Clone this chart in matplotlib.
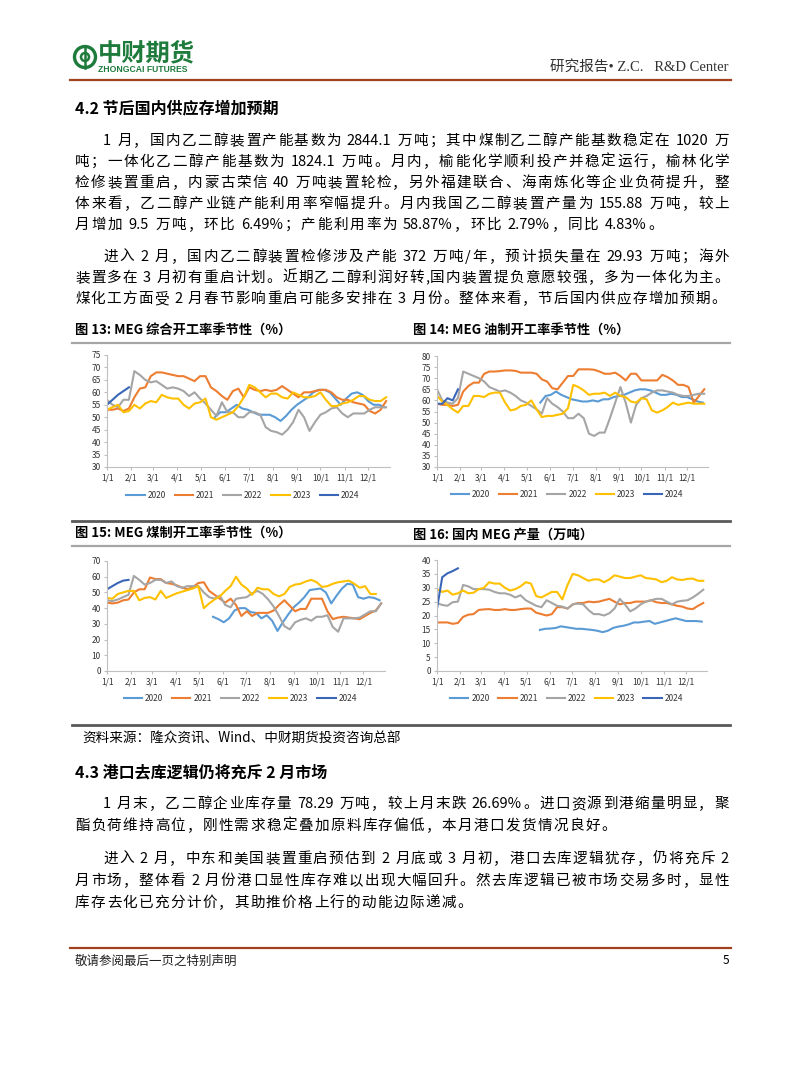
import re
import numpy as np
import pandas as pd
import matplotlib
matplotlib.use('Agg')
import matplotlib.pyplot as plt
from matplotlib.font_manager import FontProperties
from matplotlib.patches import Ellipse
from matplotlib.lines import Line2D

plt.rcParams['font.family'] = ['Noto Sans CJK SC', 'DejaVu Sans']

W, H = 802, 1087

# ---------------- data ----------------
years = [2020, 2021, 2022, 2023, 2024]
year_colors = ['#5B9BD5', '#ED7D31', '#A5A5A5', '#FFC000', '#3A66B8']
start_2020 = '2020-05-18'
month_days = [0, 31, 59, 90, 120, 151, 181, 212, 243, 273, 304, 334]
month_labels = ['1/1', '2/1', '3/1', '4/1', '5/1', '6/1',
                '7/1', '8/1', '9/1', '10/1', '11/1', '12/1']

# 图13 MEG综合开工率 (%), weekly
c13_2020 = [50, 52, 52, 53.5, 55, 53.5, 53, 52, 51, 51, 51, 50, 48.5, 50.5, 53, 55,
            56.5, 58, 60, 61, 61, 60, 57.5, 55, 57.5, 59.5, 60, 59, 56.5, 55, 55, 54]
c13_2021 = [53, 53, 53.5, 52.5, 53.5, 58, 61.5, 62, 66.5, 68, 68, 67.5, 67, 66.5, 66.5, 65.5,
            64.5, 66.5, 66.5, 62, 60.5, 58.5, 57, 60.5, 61.5, 58, 62, 61, 60.5, 61, 60.5, 61,
            62.5, 61, 59.5, 58, 60, 60, 60.5, 61, 61, 60, 58, 57, 57, 56, 55.5, 55, 52.5, 51.5,
            53, 56.5]
c13_2022 = [57, 55, 54, 57, 57, 68.5, 67, 65, 64, 64.5, 63, 61.5, 62, 61.5, 60.5, 58.5,
            60, 57.5, 55.5, 53, 50.5, 56, 52, 52, 50, 50, 52, 52, 51, 46, 44.5, 44,
            43, 45, 48, 53, 50, 44.5, 48, 51, 52, 53.5, 54, 51.5, 50, 51.5, 51.5, 51.5, 53, 54,
            54, 54]
c13_2023 = [53, 54, 55, 52, 52.5, 55, 53.5, 55.5, 56.5, 56, 59, 58, 57.5, 57.5, 55, 53.5,
            55.5, 56, 57.5, 50, 49, 50, 51, 52, 54.5, 58, 63, 62, 60, 58, 59.5, 59.5,
            58, 57.5, 60, 59, 58, 58, 58.5, 60, 57, 54.5, 54.5, 55.5, 56, 57, 58.5, 58.5, 57, 56.5,
            56.5, 58]
c13_2024 = [55, 57, 59, 60.5, 62]

# 图14 MEG油制开工率 (%)
c14_2020 = [59, 62, 62.5, 64, 62.5, 61.5, 60.5, 60, 59.5, 59.5, 60, 59.5, 60.5, 60.5, 61.5, 62,
            62.5, 63.5, 64.5, 65, 65, 64.5, 63.5, 62.5, 62.5, 63, 62.5, 61.5, 61.5, 60.5, 59.5, 59]
c14_2021 = [58.5, 58, 58, 57.5, 58, 64, 66.5, 68, 68, 72, 73, 73, 73.2, 73.5, 73.5, 73.3,
            72.5, 72.5, 72.5, 72, 69.5, 68.5, 65.5, 65, 68, 71, 71, 74, 74, 74, 73.8, 73,
            72, 72, 72.5, 71, 69, 72, 72, 69, 69, 69, 69, 71.5, 70.5, 69, 67, 67, 66, 59,
            62, 65]
c14_2022 = [65, 60, 59, 58.5, 61, 73, 72, 71, 70, 68.5, 66, 65, 64, 64.5, 63.5, 62,
            60, 59, 57.5, 56, 54, 61, 58.5, 57, 55, 52, 52, 54, 52, 45, 44, 45.5,
            45.5, 52, 59, 66, 59, 50, 58, 61, 62, 63.5, 64.5, 64.5, 64, 63.5, 62.5, 62, 62, 62.5,
            63, 63]
c14_2023 = [62, 59.5, 58, 56, 54.5, 57.5, 57.5, 62, 62, 61.5, 63, 63.5, 63.5, 59, 55.5, 56,
            57.5, 58, 60, 56, 52.5, 53, 53, 53.5, 54, 56.5, 67, 66, 64.5, 62.5, 63, 63,
            63.5, 62, 63.5, 62, 61.5, 59.5, 59, 61, 60.5, 55.5, 54.5, 55.5, 57, 59, 58, 58.5, 59, 58.5,
            58.5, 58.5]
c14_2024 = [58.5, 58.5, 61, 60, 65]

# 图15 MEG煤制开工率 (%)
c15_2020 = [34.5, 33, 31, 33.5, 38.5, 40, 40, 37.5, 37, 33.5, 35.5, 32, 25.5, 31, 36, 40.5,
            43.5, 47, 51.5, 52, 52.5, 50, 43, 48, 52.5, 55.5, 55, 47, 46, 47, 46.5, 45]
c15_2021 = [43.5, 43, 43.5, 45, 45.5, 50, 52, 52, 59.5, 58.5, 58.5, 56, 55.5, 54.5, 53, 52,
            53.5, 56, 56.5, 51, 48.5, 46, 43.5, 46, 42, 35, 38, 35, 37, 37, 37, 38.5,
            42, 45, 41.5, 38, 39.5, 39.5, 46, 46, 46, 38, 33, 34, 34.5, 34, 33.5, 33, 35, 37,
            38.5, 43]
c15_2022 = [45, 44.5, 45.5, 47, 48.5, 60.5, 58, 55, 56, 58, 58, 56, 57, 54, 53, 54,
            54, 54, 50, 47, 46, 48, 42, 40.5, 46, 46.5, 47, 49.5, 51, 49, 45.5, 41,
            35, 28.5, 26.5, 31, 32.5, 33.5, 32, 34.5, 34.5, 35.5, 28, 25, 33.5, 33.5, 33.5, 34, 36, 38,
            38, 43]
c15_2023 = [46.5, 46, 49, 50, 51, 51, 45, 46.5, 47, 45.5, 51, 46.5, 48, 49.5, 50.5, 51.5,
            52.5, 54, 40, 43, 45.5, 47.5, 51, 54, 60, 55, 52.5, 48.5, 53, 52, 52, 49,
            47.5, 49, 53.5, 55, 55.5, 57, 58, 56.5, 53.5, 54, 55.5, 56.5, 57, 57.5, 55.5, 53, 54, 49,
            49]
c15_2024 = [52, 54, 56, 57.5, 58]

# 图16 国内MEG产量 (万吨)
c16_2020 = [14.8, 15.2, 15.3, 15.5, 16.1, 15.8, 15.5, 15.2, 15.2, 15, 14.8, 14.5, 14, 14.5, 15.5, 16,
            16.3, 16.8, 17.5, 17.5, 17.8, 18, 17, 17.5, 18, 18.5, 19, 18.5, 18, 18, 18, 17.8]
c16_2021 = [17.5, 17.5, 17.5, 17, 17.3, 19.5, 20.3, 20.5, 22, 22.2, 22.3, 22, 22, 22.3, 22, 22,
            22.3, 22.5, 22.5, 21, 20.5, 20, 20.5, 23, 23, 22.5, 24, 24.5, 24.5, 25, 24.8, 25,
            25.5, 26, 25, 24, 24.5, 24.5, 25, 25, 25, 25.5, 24.8, 24.5, 24.5, 24, 23.5, 23.2, 22.5, 22.3,
            23.5, 24.5]
c16_2022 = [24.5, 23.8, 23.5, 24.8, 25, 31, 30.5, 29.5, 29.5, 29.5, 29.3, 28.5, 28, 28, 27.5, 26.5,
            27.3, 25.5, 24.5, 23.5, 23, 25.5, 24.5, 23.5, 23.2, 22.5, 24, 24.3, 24, 22, 20.5, 20.5,
            20, 20.8, 22.5, 26, 24, 21.5, 22.5, 24, 25, 25.5, 26, 26, 25, 24, 25, 25.3, 25.5, 26.5,
            27.8, 29.3]
c16_2023 = [29.5, 28.5, 29, 27.5, 28, 29, 28, 28.2, 29.5, 30, 32, 31.5, 31.5, 30, 29, 29.5,
            30.5, 32, 31.5, 27, 26.5, 27.5, 28.5, 28.5, 25.8, 31, 35, 34.5, 33.5, 32.5, 33, 33,
            32, 33, 34.5, 34, 33.5, 33.5, 34, 34.5, 33.5, 33.3, 33, 32, 32.5, 33.8, 33, 32.8, 33.2, 33.3,
            32.5, 32.5]
c16_2024 = [22.5, 33.8, 35.2, 36, 37]

# ---------------- page text ----------------
sec42_title = '4.2 节后国内供应存增加预期'
sec42_p1 = ['1 月，国内乙二醇装置产能基数为 2844.1 万吨；其中煤制乙二醇产能基数稳定在 1020 万',
            '吨；一体化乙二醇产能基数为 1824.1 万吨。月内，榆能化学顺利投产并稳定运行，榆林化学',
            '检修装置重启，内蒙古荣信 40 万吨装置轮检，另外福建联合、海南炼化等企业负荷提升，整',
            '体来看，乙二醇产业链产能利用率窄幅提升。月内我国乙二醇装置产量为 155.88 万吨，较上',
            '月增加 9.5 万吨，环比 6.49%；产能利用率为 58.87%，环比 2.79%，同比 4.83%。']
sec42_p2 = ['进入 2 月，国内乙二醇装置检修涉及产能 372 万吨/年，预计损失量在 29.93 万吨；海外',
            '装置多在 3 月初有重启计划。近期乙二醇利润好转,国内装置提负意愿较强，多为一体化为主。',
            '煤化工方面受 2 月春节影响重启可能多安排在 3 月份。整体来看，节后国内供应存增加预期。']
sec43_title = '4.3 港口去库逻辑仍将充斥 2 月市场'
sec43_p1 = ['1 月末，乙二醇企业库存量 78.29 万吨，较上月末跌 26.69%。进口资源到港缩量明显，聚',
            '酯负荷维持高位，刚性需求稳定叠加原料库存偏低，本月港口发货情况良好。']
sec43_p2 = ['进入 2 月，中东和美国装置重启预估到 2 月底或 3 月初，港口去库逻辑犹存，仍将充斥 2',
            '月市场，整体看 2 月份港口显性库存难以出现大幅回升。然去库逻辑已被市场交易多时，显性',
            '库存去化已充分计价，其助推价格上行的动能边际递减。']
fig_titles = ['图 13: MEG 综合开工率季节性（%）', '图 14: MEG 油制开工率季节性（%）',
              '图 15: MEG 煤制开工率季节性（%）', '图 16: 国内 MEG 产量（万吨）']
source_text = '资料来源：隆众资讯、Wind、中财期货投资咨询总部'

fig = plt.figure(figsize=(W / 100, H / 100), dpi=100)
renderer = fig.canvas.get_renderer()
CJK = ['Noto Sans CJK SC', 'DejaVu Sans']
body = FontProperties(family=CJK, size=10.5)


def hline(x0, x1, y, color, lw):
    fig.add_artist(Line2D([x0 / W, x1 / W], [1 - y / H, 1 - y / H],
                          color=color, lw=lw, transform=fig.transFigure))


def tw(s, prop):
    a = renderer.get_text_width_height_descent('x' + s + 'x', prop, ismath=False)[0]
    b = renderer.get_text_width_height_descent('xx', prop, ismath=False)[0]
    return a - b


def draw_line(s, x0, x1, y, prop, extra=None):
    toks = re.findall(r'[0-9A-Za-z.%/]+|.', s)
    ws = [tw(t, prop) for t in toks]
    if extra is None:
        extra = (x1 - x0 - sum(ws)) / (len(toks) - 1)
    x = x0
    for t, w in zip(toks, ws):
        if t != ' ':
            fig.text(x / W, 1 - y / H, t, fontproperties=prop, va='baseline', ha='left')
        x += w + extra
    return extra


def paragraph(lines, y0, step, x0=75, x1=729, indent=28):
    extra = 0
    for i, s in enumerate(lines):
        left = x0 + indent if i == 0 else x0
        y = y0 + i * step
        if i < len(lines) - 1:
            extra = draw_line(s, left, x1, y, body)
        else:
            draw_line(s, left, x1, y, body, extra=extra)


# ---------------- header ----------------
green = '#1E7B3C'
fig.add_artist(Ellipse((85 / W, 1 - 57 / H), 21 / W, 21 / H, transform=fig.transFigure,
                       fill=False, ec=green, lw=2.4))
fig.add_artist(Ellipse((85 / W, 1 - 57 / H), 8 / W, 8 / H, transform=fig.transFigure,
                       fill=False, ec=green, lw=1.8))
fig.add_artist(Line2D([85 / W, 85 / W], [1 - 46 / H, 1 - 68 / H], color=green, lw=1.8,
                      transform=fig.transFigure))
fig.text(98 / W, 1 - 53 / H, '中财期货', fontsize=17.5, fontweight='heavy', color=green,
         va='center', ha='left', family=CJK)
fig.text(98 / W, 1 - 70 / H, 'ZHONGCAI FUTURES', fontsize=6.2, fontweight='bold', color=green,
         va='center', ha='left', family=['Liberation Sans', 'DejaVu Sans'])
fig.text(729 / W, 1 - 67 / H, '研究报告• Z.C.   R&D Center', fontsize=10.5, color='#333333',
         va='center', ha='right', family=['Liberation Serif', 'Noto Sans CJK SC'])
hline(70, 731, 80, '#A3401F', 1.6)

# ---------------- section 4.2 ----------------
fig.text(75 / W, 1 - 108 / H, sec42_title, fontsize=11.5, fontweight='bold',
         va='center', ha='left', family=CJK)
paragraph(sec42_p1, 145, 21)
paragraph(sec42_p2, 261, 21)

# ---------------- charts ----------------
def season_chart(box, series, ylim, ystep):
    left, top, right, bottom = box
    ax = fig.add_axes([left / W, 1 - bottom / H, (right - left) / W, (bottom - top) / H])
    for yr, col, vals in zip(years, year_colors, series):
        start = start_2020 if yr == 2020 else f'{yr}-01-01'
        d = pd.date_range(start, periods=len(vals), freq='7D')
        x = (d - pd.Timestamp(f'{yr}-01-01')).days
        ax.plot(x, vals, color=col, lw=1.5, label=str(yr))
    ax.set_xlim(0, 362)
    ax.set_ylim(*ylim)
    ax.set_yticks(np.arange(ylim[0], ylim[1] + 0.1, ystep))
    ax.set_xticks(month_days)
    ax.set_xticklabels(month_labels)
    for sp in ['top', 'right']:
        ax.spines[sp].set_visible(False)
    for sp in ['left', 'bottom']:
        ax.spines[sp].set_color('#BFBFBF')
        ax.spines[sp].set_linewidth(0.8)
    ax.tick_params(labelsize=6, colors='#BFBFBF', labelcolor='#333333', length=2.5,
                   width=0.8, pad=2)
    ax.legend(loc='center', bbox_to_anchor=(0.48, -0.25), ncol=5, frameon=False,
              fontsize=6, handlelength=2.2, handletextpad=0.35, columnspacing=1.05,
              labelcolor='#333333')
    return ax


season_chart((107, 355, 390, 467), [c13_2020, c13_2021, c13_2022, c13_2023, c13_2024], (30, 75), 5)
season_chart((437, 356, 708, 467), [c14_2020, c14_2021, c14_2022, c14_2023, c14_2024], (30, 80), 5)
season_chart((107, 561, 385, 671), [c15_2020, c15_2021, c15_2022, c15_2023, c15_2024], (0, 70), 10)
season_chart((437, 560, 707, 671), [c16_2020, c16_2021, c16_2022, c16_2023, c16_2024], (0, 40), 5)

for t, (x, y) in zip(fig_titles, [(75, 331), (413, 331), (75, 534), (413, 534)]):
    fig.text(x / W, 1 - y / H, t, fontsize=9.5, fontweight='bold', va='center', ha='left',
             family=CJK)
hline(72, 730, 343, '#A6A6A6', 1.6)
hline(72, 730, 521, '#595959', 2.0)
hline(72, 730, 546, '#A6A6A6', 1.6)
hline(72, 730, 725, '#595959', 2.0)
fig.text(82 / W, 1 - 739 / H, source_text, fontsize=9.8, va='center', ha='left', family=CJK)

# ---------------- section 4.3 ----------------
fig.text(75 / W, 1 - 772 / H, sec43_title, fontsize=11.5, fontweight='bold',
         va='center', ha='left', family=CJK)
paragraph(sec43_p1, 808, 22)
paragraph(sec43_p2, 863, 22)

# ---------------- footer ----------------
hline(70, 731, 948, '#A3401F', 1.6)
fig.text(75 / W, 1 - 961 / H, '敬请参阅最后一页之特别声明', fontsize=9, va='center', ha='left',
         family=CJK, color='#222222')
fig.text(729 / W, 1 - 961 / H, '5', fontsize=8.5, va='center', ha='right', family=CJK)

fig.savefig('out.png', dpi=100)
